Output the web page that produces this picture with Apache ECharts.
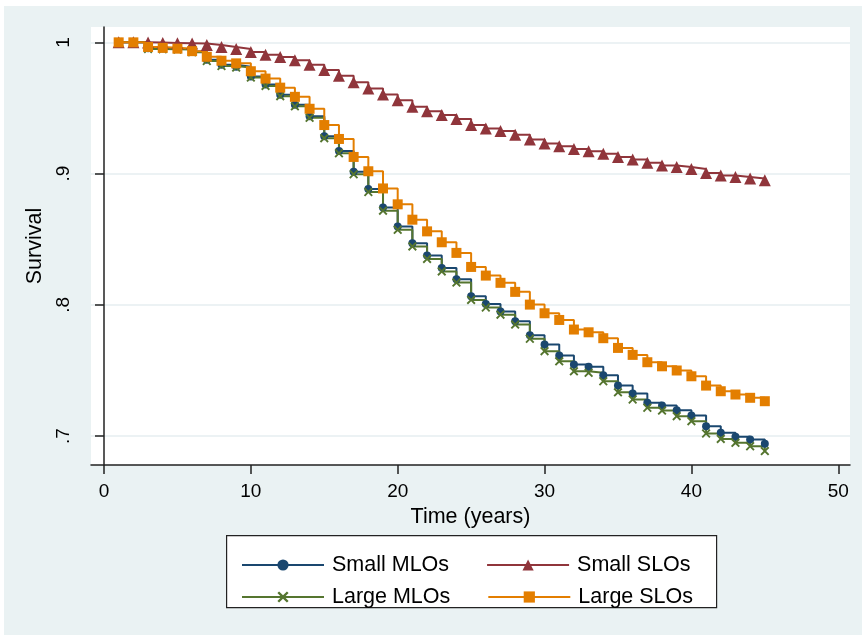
<!DOCTYPE html>
<html>
<head>
<meta charset="utf-8">
<script src="https://cdn.jsdelivr.net/npm/echarts@6/dist/echarts.min.js"></script>
<style>
html,body{margin:0;padding:0;background:#fff;}
#wrap{position:relative;width:862px;height:635px;background:#fff;}
#bg{position:absolute;left:4px;top:6px;right:0;bottom:0;background:#eaf2f3;}
#c{position:absolute;left:0;top:0;width:862px;height:635px;}
</style>
</head>
<body>
<div id="wrap"><div id="bg"></div><div id="c"></div></div>
<script>
const years = [1,2,3,4,5,6,7,8,9,10,11,12,13,14,15,16,17,18,19,20,21,22,23,24,25,26,27,28,29,30,31,32,33,34,35,36,37,38,39,40,41,42,43,44,45];

const smallMLOs = [1.0,1.0,0.9955,0.9953,0.995,0.993,0.9868,0.983,0.9815,0.974,0.9678,0.960,0.9525,0.9437,0.9285,0.9172,0.9015,0.8883,0.8741,0.8598,0.847,0.8376,0.828,0.8196,0.8066,0.8007,0.795,0.7875,0.7768,0.7698,0.7614,0.7545,0.7528,0.7464,0.7385,0.7324,0.7254,0.7233,0.7197,0.7157,0.7075,0.7025,0.6995,0.6974,0.6941];

const smallSLOs = [1.0,1.0,0.9998,0.9996,0.9994,0.9992,0.998,0.9965,0.995,0.9927,0.9906,0.9889,0.9863,0.983,0.979,0.9745,0.9697,0.9648,0.9602,0.9558,0.951,0.9476,0.9447,0.9416,0.937,0.9343,0.9325,0.9297,0.926,0.923,0.9208,0.9188,0.917,0.9152,0.9127,0.9107,0.9082,0.9062,0.905,0.9035,0.9005,0.8985,0.8975,0.8963,0.895];

const largeMLOs = [1.0,1.0,0.995,0.9948,0.9945,0.9925,0.9858,0.982,0.9808,0.9732,0.9668,0.959,0.9513,0.9425,0.927,0.9155,0.8995,0.886,0.8718,0.8572,0.8445,0.835,0.8255,0.817,0.8038,0.798,0.7925,0.785,0.7742,0.7647,0.757,0.7494,0.7482,0.7418,0.7334,0.7279,0.7216,0.7195,0.7152,0.7114,0.702,0.6979,0.6949,0.6923,0.6886];

const largeSLOs = [1.0,1.0,0.9965,0.9958,0.9952,0.9933,0.989,0.986,0.984,0.978,0.9724,0.9655,0.9585,0.9494,0.937,0.9264,0.9127,0.9018,0.8887,0.8766,0.8649,0.856,0.8477,0.8396,0.8289,0.8223,0.8168,0.8099,0.8002,0.7936,0.7885,0.7812,0.7791,0.7746,0.7672,0.7619,0.7563,0.7532,0.75,0.7456,0.7385,0.7342,0.7317,0.7292,0.7266];

const xTicks = [0,10,20,30,40,50];
const yTicks = [0.7,0.8,0.9,1.0];
const yTickLabels = {'0.7':'.7','0.8':'.8','0.9':'.9','1':'1'};

const seriesNames = ['Small MLOs','Small SLOs','Large MLOs','Large SLOs'];

const FONT = '"Liberation Sans", Arial, sans-serif';
const xShape = 'path://M0,1.5 L1.5,0 L5,3.5 L8.5,0 L10,1.5 L6.5,5 L10,8.5 L8.5,10 L5,6.5 L1.5,10 L0,8.5 L3.5,5 Z';

function pairs(vals){ return years.map((t,i)=>[t, vals[i]]); }

function mk(name, vals, color, symbol, size){
  return {
    name: name, type: 'line', step: 'end', data: pairs(vals),
    symbol: symbol, symbolSize: size, showSymbol: true,
    lineStyle: {color: color, width: 2},
    itemStyle: {color: color},
    emphasis: {disabled: true},
    animation: false
  };
}

const chart = echarts.init(document.getElementById('c'), null, {renderer: 'canvas'});
chart.setOption({
  backgroundColor: 'transparent',
  animation: false,
  grid: {left: 91, right: 12, top: 27, bottom: 170, show: true, backgroundColor: '#ffffff', borderWidth: 0},
  xAxis: {
    type: 'value', min: -0.885, max: 50.8,
    name: 'Time (years)', nameLocation: 'middle', nameGap: 38,
    nameTextStyle: {fontFamily: FONT, fontSize: 21.5, color: '#000'},
    axisLine: {show: true, lineStyle: {color: '#222', width: 1.5}},
    axisTick: {show: true, customValues: xTicks, length: 9, lineStyle: {color: '#222', width: 1.5}},
    axisLabel: {customValues: xTicks, fontFamily: FONT, fontSize: 19, color: '#000', margin: 17},
    splitLine: {show: false}
  },
  yAxis: {
    type: 'value', min: 0.678, max: 1.0117,
    name: 'Survival', nameLocation: 'middle', nameGap: 37, nameRotate: 90,
    nameTextStyle: {fontFamily: FONT, fontSize: 21.5, color: '#000'},
    axisLine: {show: true, lineStyle: {color: '#222', width: 1.5}},
    axisTick: {show: true, customValues: yTicks, length: 9, lineStyle: {color: '#222', width: 1.5}},
    axisLabel: {customValues: yTicks, rotate: 90, fontFamily: FONT, fontSize: 19, color: '#000', margin: 18,
      formatter: v => yTickLabels[String(Math.round(v*10)/10)] || ''},
    splitLine: {show: true, lineStyle: {color: '#e6eef0', width: 1.5}}
  },
  legend: [
    {data: [seriesNames[0], seriesNames[1]], left: 236, top: 549, orient: 'horizontal',
     itemWidth: 82, itemHeight: 14, itemGap: 37,
     textStyle: {fontFamily: FONT, fontSize: 21.5, color: '#000', padding: [0,0,0,3]}},
    {data: [seriesNames[2], seriesNames[3]], left: 236, top: 581, orient: 'horizontal',
     itemWidth: 82, itemHeight: 14, itemGap: 37,
     textStyle: {fontFamily: FONT, fontSize: 21.5, color: '#000', padding: [0,0,0,3]}}
  ],
  graphic: [
    {type: 'rect', left: 226, top: 535, shape: {width: 490, height: 72}, z: -1,
     style: {fill: '#ffffff', stroke: '#222', lineWidth: 1.2}}
  ],
  series: [
    mk(seriesNames[0], smallMLOs, '#1a476f', 'circle', 8),
    mk(seriesNames[1], smallSLOs, '#90353b', 'triangle', 12),
    mk(seriesNames[2], largeMLOs, '#55752f', xShape, 9),
    mk(seriesNames[3], largeSLOs, '#e37e00', 'rect', 10)
  ]
});
</script>
</body>
</html>
